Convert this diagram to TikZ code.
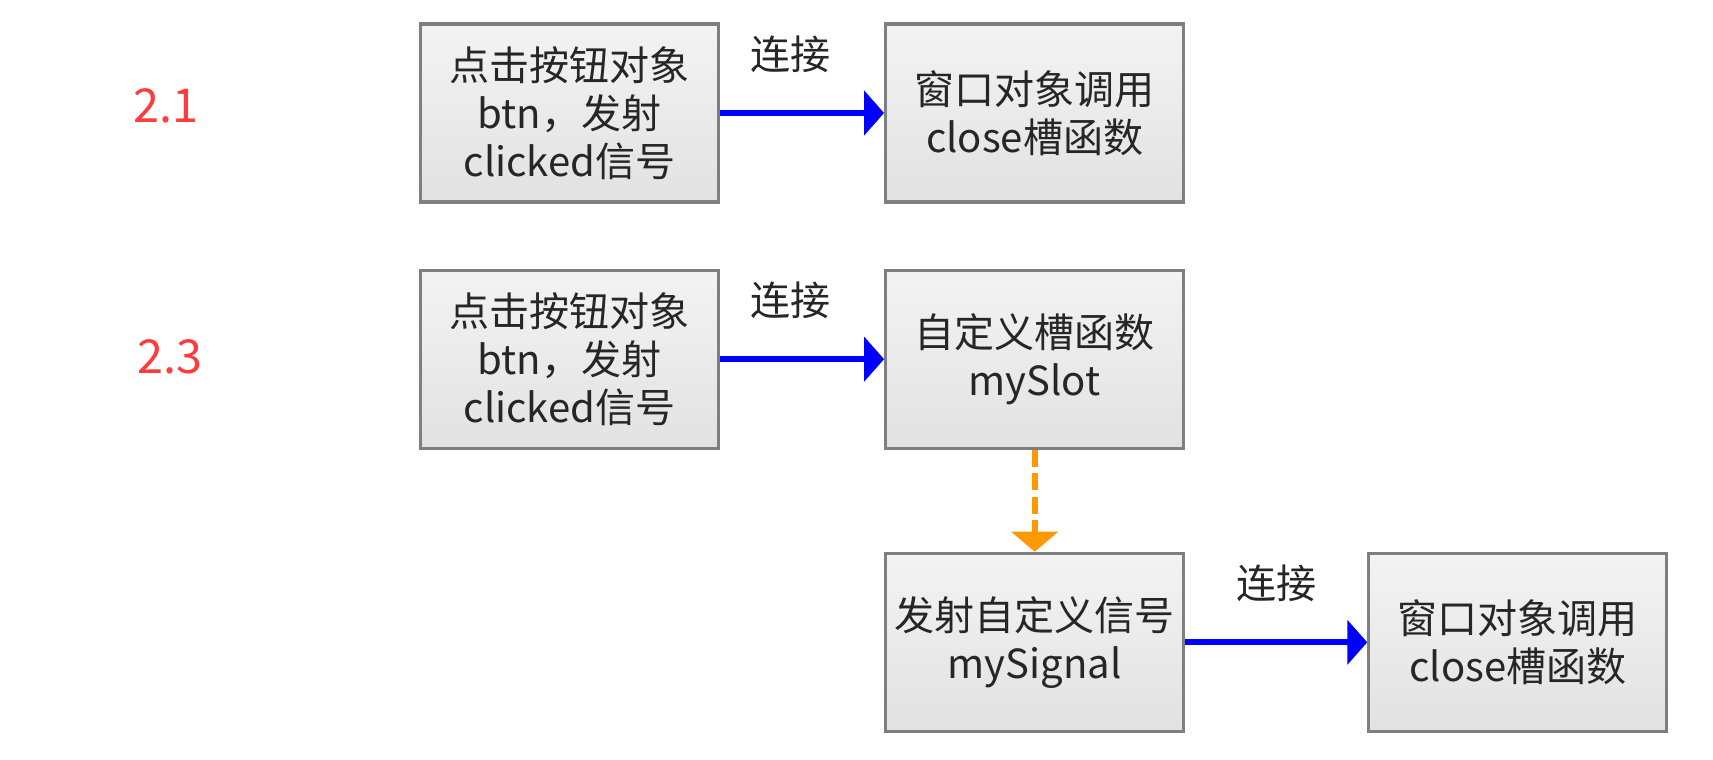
\documentclass[tikz,border=0pt]{standalone}
\usepackage{fontspec}
\setmainfont{Noto Sans CJK SC}
\usetikzlibrary{positioning,arrows.meta}
\definecolor{boxgray}{HTML}{7F7F7F}
\definecolor{boxtop}{HTML}{F3F3F3}
\definecolor{boxbot}{HTML}{E2E2E2}
\definecolor{txtgray}{HTML}{262626}
\definecolor{numred}{HTML}{FF3B3B}
\definecolor{linkblue}{HTML}{0000FF}
\definecolor{emitorange}{HTML}{FF9900}
\tikzset{block/.style={draw=boxgray,line width=0.9pt,top color=boxtop,bottom color=boxbot,minimum width=2.98cm,minimum height=1.78cm,align=center,inner sep=0pt,text=txtgray,font=\fontsize{11.4pt}{13.7pt}\selectfont},
         num/.style={text=numred,font=\fontsize{13.3pt}{16pt}\selectfont},
         link/.style={text=txtgray,font=\fontsize{11.4pt}{13.7pt}\selectfont,above=0.26cm}
}
\tikzstyle{arrow} = [line width=1.7pt,draw=linkblue,-{Triangle[length=0.2cm,width=0.44cm,fill=linkblue]}]
\tikzstyle{emit} = [line width=1.7pt,draw=emitorange,dash pattern=on 0.17cm off 0.065cm,-{Triangle[length=0.2cm,width=0.46cm,fill=emitorange]}]
\begin{document}
\begin{tikzpicture}

\useasboundingbox (0,0) rectangle (17.13,7.59);

\node[num] (numa) at (1.66,6.53) {2.1};
\node[num] (numb) at (1.70,4.02) {2.3};

\node[block] (btna) at (5.695,6.46) {点击按钮对象\\btn，发射\\clicked信号};
\node[block,right=1.64cm of btna] (closea) {窗口对象调用\\close槽函数};
\node[block,below=0.65cm of btna] (btnb) {点击按钮对象\\btn，发射\\clicked信号};
\node[block,right=1.64cm of btnb] (myslot) {自定义槽函数\\mySlot};
\node[block,below=1.02cm of myslot] (mysignal) {发射自定义信号\\mySignal};
\node[block,right=1.82cm of mysignal] (closeb) {窗口对象调用\\close槽函数};

\draw[arrow] (btna)--node[link,xshift=-0.12cm] (lka) {连接} (closea);
\draw[arrow] (btnb)--node[link,xshift=-0.12cm] (lkb) {连接} (myslot);
\draw[emit] (myslot)--(mysignal);
\draw[arrow] (mysignal)--node[link] (lkc) {连接} (closeb);

\end{tikzpicture}
\end{document}
